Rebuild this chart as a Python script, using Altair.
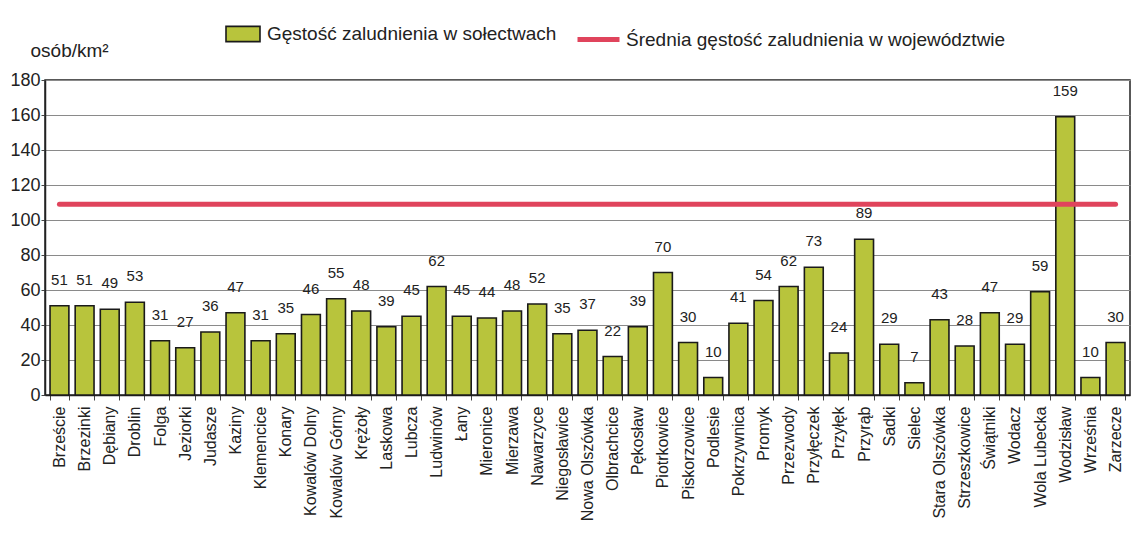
import altair as alt
import pandas as pd

villages = ["Brzeście", "Brzezinki", "Dębiany", "Droblin", "Folga", "Jeziorki", "Judasze",
            "Kaziny", "Klemencice", "Konary", "Kowalów Dolny", "Kowalów Górny", "Krężoły",
            "Laskowa", "Lubcza", "Ludwinów", "Łany", "Mieronice", "Mierzawa", "Nawarzyce",
            "Niegosławice", "Nowa Olszówka", "Olbrachcice", "Pękosław", "Piotrkowice",
            "Piskorzowice", "Podlesie", "Pokrzywnica", "Promyk", "Przezwody", "Przyłęczek",
            "Przyłęk", "Przyrąb", "Sadki", "Sielec", "Stara Olszówka", "Strzeszkowice",
            "Świątniki", "Wodacz", "Wola Lubecka", "Wodzisław", "Września", "Zarzecze"]
density = [51, 51, 49, 53, 31, 27, 36, 47, 31, 35, 46, 55, 48, 39, 45, 62, 45, 44, 48, 52,
           35, 37, 22, 39, 70, 30, 10, 41, 54, 62, 73, 24, 89, 29, 7, 43, 28, 47, 29, 59,
           159, 10, 30]
voivodeship_avg = 109
bar_series = "Gęstość zaludnienia w sołectwach"
line_series = "Średnia gęstość zaludnienia w województwie"
y_ticks = [0, 20, 40, 60, 80, 100, 120, 140, 160, 180]

df = pd.DataFrame({"wies": villages, "gestosc": density})
df["seria"] = bar_series
df_avg = pd.DataFrame({"wies": villages, "gestosc": [voivodeship_avg] * len(villages)})
df_avg["seria2"] = line_series

SANS = "Liberation Sans, Arial, sans-serif"
OLIVE = "#b8c43c"
RED = "#e0445c"

x = alt.X("wies:N", sort=villages, title=None,
          scale=alt.Scale(paddingInner=0.25, paddingOuter=0.2),
          axis=alt.Axis(labelAngle=-90, labelFont=SANS, labelFontSize=16, labelColor="#222",
                        labelPadding=6, tickBand="extent", tickSize=5, tickColor="#444",
                        domainColor="#222", domainWidth=1.5, labelLimit=200))

y = alt.Y("gestosc:Q", title="osób/km²",
          scale=alt.Scale(domain=[0, 180], nice=False),
          axis=alt.Axis(values=y_ticks, labelOverlap=False, labelFont=SANS,
                        labelFontSize=18, labelColor="#222", labelPadding=1, tickSize=4,
                        tickColor="#444", domainColor="#222", domainWidth=1.5,
                        gridColor="#8a8a8a", gridWidth=1,
                        titleAngle=0, titleAlign="left", titleBaseline="middle",
                        titleX=-15, titleY=-30, titleFont=SANS, titleFontSize=19,
                        titleFontWeight="normal", titleColor="#222"))

bars = alt.Chart(df).mark_bar(stroke="#1a1a1a", strokeWidth=1.6).encode(
    x=x, y=y,
    color=alt.Color("seria:N", scale=alt.Scale(domain=[bar_series], range=[OLIVE]),
                    legend=alt.Legend(orient="none", legendX=180, legendY=-64, title=None,
                                      padding=0,
                                      symbolType="M-1,-0.45H1V0.45H-1Z", symbolSize=1156,
                                      symbolStrokeColor="#1a1a1a", symbolStrokeWidth=1.6,
                                      symbolOpacity=1,
                                      labelFont=SANS, labelFontSize=19, labelColor="#222",
                                      labelOffset=6, labelLimit=600)),
)

labels = alt.Chart(df).mark_text(font=SANS, fontSize=15, color="#222", dy=-26,
                                 baseline="middle").encode(
    x=x, y=y,
    text=alt.Text("gestosc:Q"),
)

line = alt.Chart(df_avg).mark_line(strokeWidth=5, strokeCap="round").encode(
    x=x, y=y,
    stroke=alt.Stroke("seria2:N", scale=alt.Scale(domain=[line_series], range=[RED]),
                      legend=alt.Legend(orient="none", legendX=530, legendY=-64, title=None,
                                        padding=0, symbolType="stroke", symbolSize=1764,
                                        symbolStrokeWidth=5,
                                        labelFont=SANS, labelFontSize=19, labelColor="#222",
                                        labelOffset=4, labelLimit=700)),
)

chart = alt.layer(bars, labels, line).resolve_scale(color="independent").properties(
    width=1085, height=315,
    autosize=alt.AutoSizeParams(type="none"),
    padding={"left": 37, "top": 72, "right": 5, "bottom": 140},
    background="white",
).configure_view(stroke="#222", strokeWidth=1.5)

chart.save("out.html", embed_options={"renderer": "svg", "actions": False})
